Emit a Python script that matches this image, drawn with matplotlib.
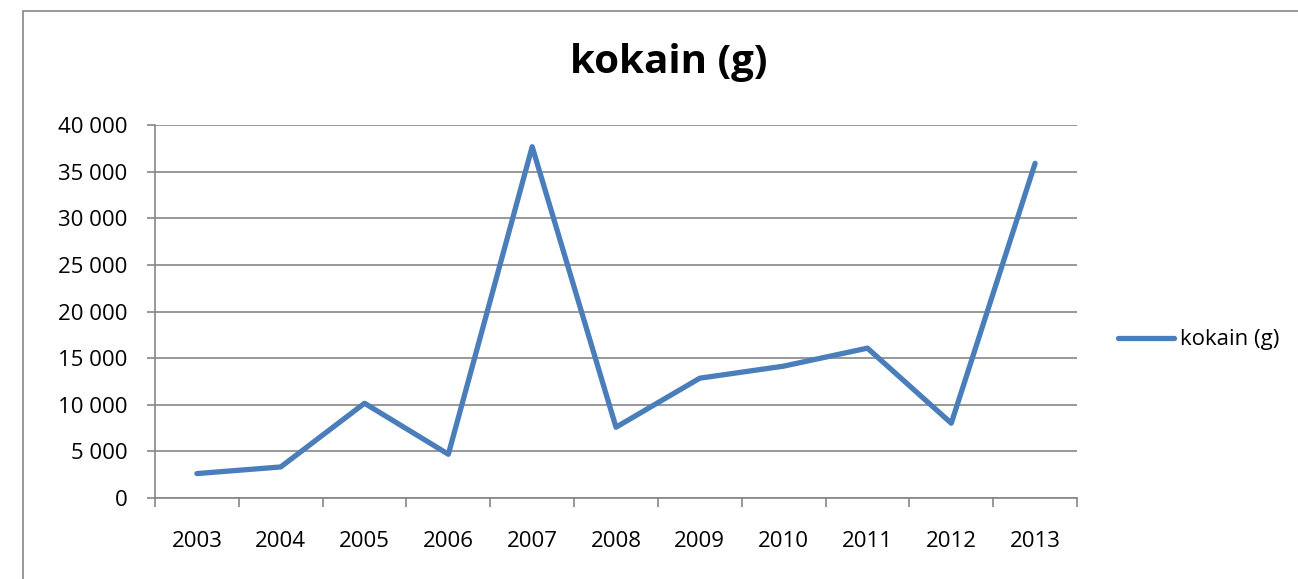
import matplotlib
matplotlib.use('Agg')
import matplotlib.pyplot as plt
from matplotlib.patches import Rectangle
from matplotlib.ticker import FuncFormatter, FixedLocator
import numpy as np

plt.rcParams['font.family'] = ['Open Sans', 'DejaVu Sans']

# data
years = ['2003', '2004', '2005', '2006', '2007', '2008', '2009', '2010', '2011', '2012', '2013']
kokain = [2620, 3330, 10160, 4690, 37670, 7590, 12850, 14140, 16070, 8020, 35890]
series_name = 'kokain (g)'

W, H = 1298, 579
fig = plt.figure(figsize=(W / 100, H / 100), dpi=100)

# outer chart frame (Excel style)
fig.patches.append(Rectangle((23 / W, -0.1), 1.2, 1 - 11 / H + 0.1, transform=fig.transFigure,
                             fill=False, edgecolor='#868686', linewidth=1.2))

ax = fig.add_axes([155 / W, 1 - 498 / H, (1077 - 155) / W, (498 - 125) / H])
x = np.arange(len(years))
ax.plot(x, kokain, color='#4A7EBB', linewidth=3.8, solid_capstyle='round',
        solid_joinstyle='round', label=series_name)

ax.set_xlim(-0.5, len(years) - 0.5)
ax.set_ylim(0, 40000)
ax.set_yticks(np.arange(0, 40001, 5000))
ax.yaxis.set_major_formatter(FuncFormatter(lambda v, p: f'{int(v):,}'.replace(',', ' ')))
ax.grid(axis='y', color='#868686', linewidth=1.2)
ax.set_axisbelow(True)

ax.set_xticks(x)
ax.set_xticklabels(years)
ax.xaxis.set_minor_locator(FixedLocator(np.arange(-0.5, len(years), 1)))
ax.tick_params(axis='x', which='major', length=0, pad=24, labelsize=16)
ax.tick_params(axis='x', which='minor', length=6.5, color='#868686', width=1.2, direction='out')
ax.tick_params(axis='y', length=6, color='#868686', width=1.2, labelsize=16, pad=14)

for s in ['top', 'right']:
    ax.spines[s].set_visible(False)
for s in ['left', 'bottom']:
    ax.spines[s].set_color('#868686')
    ax.spines[s].set_linewidth(1.2)

fig.text(669 / W, 1 - 63 / H, series_name, ha='center', va='center',
         fontsize=29, fontweight='bold')

ax.legend(loc='center left', bbox_to_anchor=(1098 / W, 1 - 340 / H), bbox_transform=fig.transFigure,
          frameon=False, fontsize=16, handlelength=2.5, handletextpad=0.3)

fig.savefig('out.png', dpi=100)
